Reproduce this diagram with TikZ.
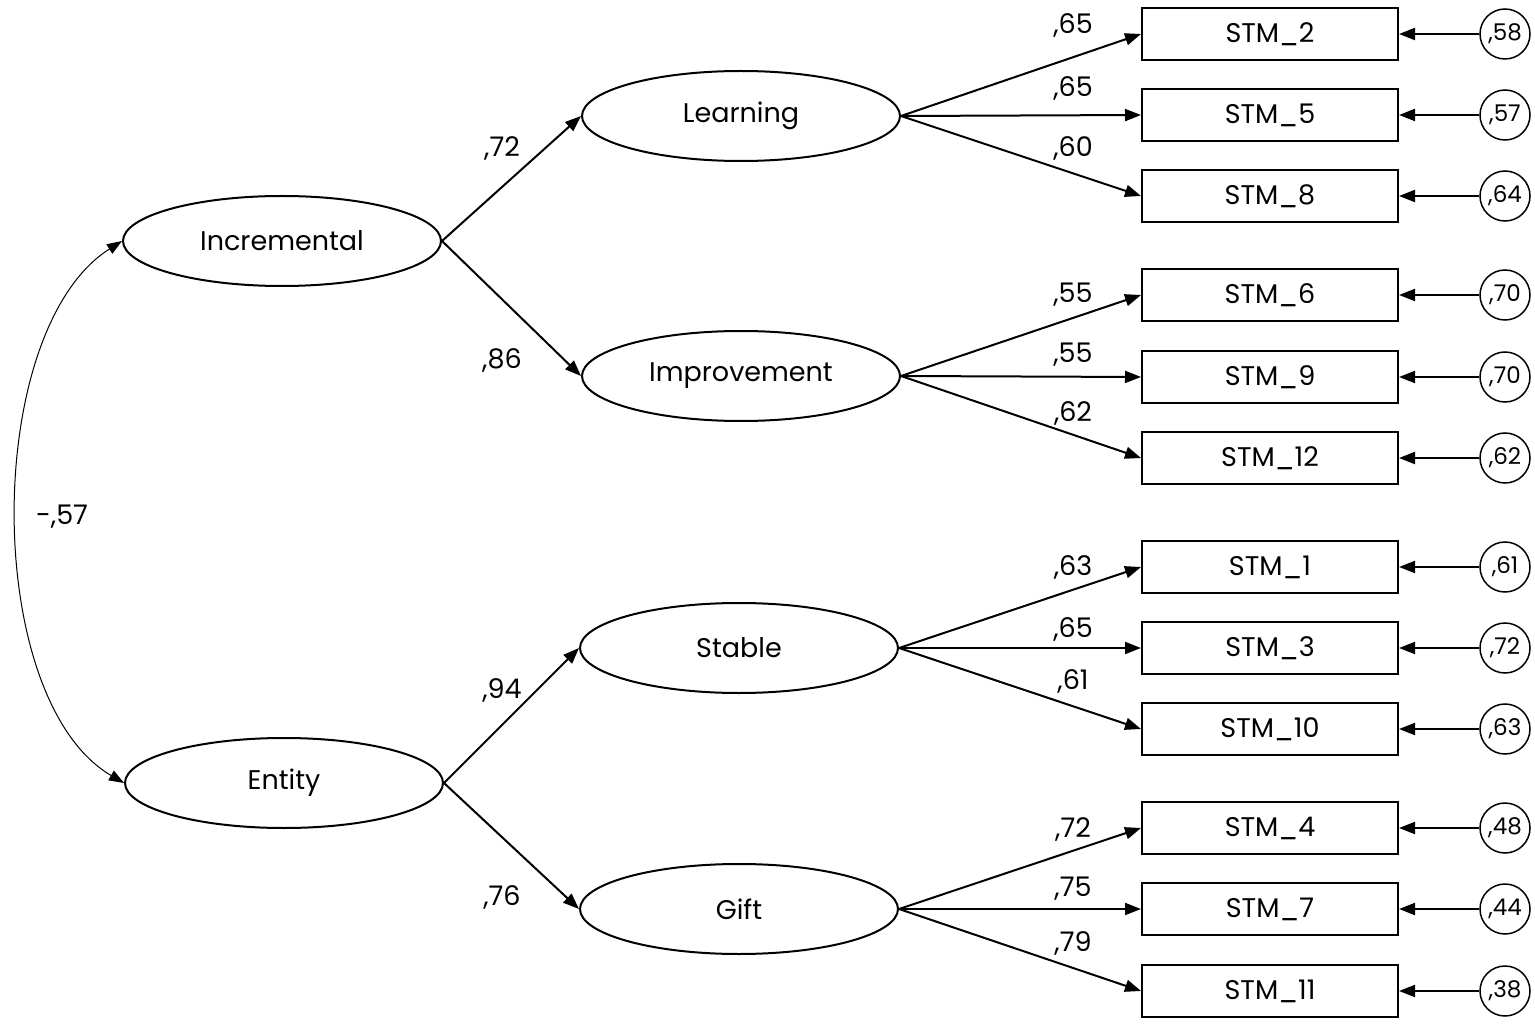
\documentclass[tikz,border=0pt]{standalone}
\usepackage{fontspec}
\setmainfont{Poppins}
\usetikzlibrary{shapes.geometric,arrows.meta}
\begin{document}
\begin{tikzpicture}[x=1pt,y=-1pt,
  font=\fontsize{27}{30}\selectfont,
  lat/.style={ellipse,draw,line width=2pt,minimum width=318pt,minimum height=90pt,inner sep=0pt},
  obs/.style={rectangle,draw,line width=2pt,minimum width=256pt,minimum height=52pt,inner sep=0pt},
  err/.style={circle,draw,line width=1.5pt,minimum size=50pt,inner sep=0pt,font=\fontsize{23}{24}\selectfont},
  arr/.style={line width=2pt,-{Triangle[length=16pt,width=12pt]}},
  lbl/.style={inner sep=0pt}]
\useasboundingbox (0,0) rectangle (1535,1024);
\fill[white] (0,0) rectangle (1535,1024);

% latent factors
\node[lat] (inc) at (282,241) {Incremental};
\node[lat] (ent) at (284,783) {Entity};
\node[lat] (lea) at (741,116) {Learning};
\node[lat] (imp) at (741,376) {Improvement};
\node[lat] (sta) at (739,648) {Stable};
\node[lat] (gif) at (739,909) {Gift};

% observed items and errors
\foreach \n/\y/\e in {2/34/58, 5/115/57, 8/196/64, 6/295/70, 9/377/70, 12/458/62, 1/567/61, 3/648/72, 10/729/63, 4/828/48, 7/909/44, 11/991/38}{
  \node[obs] (s\n) at (1270,\y) {STM\_\n};
  \node[err] (e\n) at (1505,\y) {,\e};
  \draw[arr] (e\n) -- (s\n);
}

% second-order paths
\draw[arr] (inc.east) -- (lea.west);
\draw[arr] (inc.east) -- (imp.west);
\draw[arr] (ent.east) -- (sta.west);
\draw[arr] (ent.east) -- (gif.west);
\node[lbl] (l1) at (502,148) {,72};
\node[lbl] (l2) at (502,360) {,86};
\node[lbl] (l3) at (502,690) {,94};
\node[lbl] (l4) at (502,897) {,76};

% first-order loadings
\foreach \f/\a/\b/\c in {lea/2/5/8, imp/6/9/12, sta/1/3/10, gif/4/7/11}{
  \draw[arr] (\f.east) -- (s\a.west);
  \draw[arr] (\f.east) -- (s\b.west);
  \draw[arr] (\f.east) -- (s\c.west);
}
\node[lbl] at (1073,25) {,65};
\node[lbl] at (1073,88) {,65};
\node[lbl] at (1073,148) {,60};
\node[lbl] at (1073,295) {,55};
\node[lbl] at (1073,355) {,55};
\node[lbl] at (1073,413) {,62};
\node[lbl] at (1073,567) {,63};
\node[lbl] at (1073,629) {,65};
\node[lbl] at (1073,681) {,61};
\node[lbl] at (1073,829) {,72};
\node[lbl] at (1073,889) {,75};
\node[lbl] at (1073,943) {,79};

% correlation
\draw[line width=1pt,{Triangle[length=15pt,width=11pt]}-{Triangle[length=15pt,width=11pt]}]
  (inc.west) .. controls (-18,330) and (-18,700) .. (ent.west);
\node[lbl] (cor) at (62,517) {-,57};
\end{tikzpicture}
\end{document}
